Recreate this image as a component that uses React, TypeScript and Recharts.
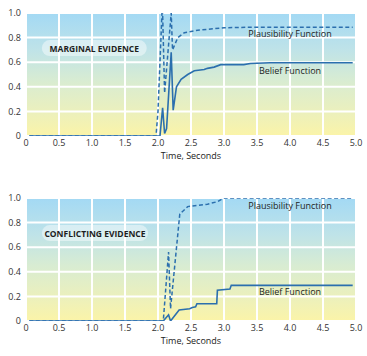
import React from "react";
import {
  CartesianGrid,
  Line,
  LineChart,
  ReferenceArea,
  ReferenceDot,
  XAxis,
  YAxis,
} from "recharts";

// time ticks (seconds) and value ticks
const timeTicks = [0, 0.5, 1, 1.5, 2, 2.5, 3, 3.5, 4, 4.5, 5];
const valueTicks = [0, 0.2, 0.4, 0.6, 0.8, 1];

// marginal evidence: [time, value]
const marginalPlausibility: [number, number][] = [
  [0.05, 0], [1.97, 0], [2.0, 0.2], [2.06, 1.0], [2.07, 1.0], [2.1, 0.35],
  [2.2, 1.0], [2.22, 0.7], [2.3, 0.8], [2.4, 0.84], [2.5, 0.85], [2.6, 0.86],
  [2.8, 0.87], [3.0, 0.88], [3.5, 0.885], [4.95, 0.885],
];
const marginalBelief: [number, number][] = [
  [0.05, 0], [2.03, 0], [2.07, 0.23], [2.1, 0.02], [2.13, 0.06], [2.2, 0.68],
  [2.23, 0.21], [2.28, 0.4], [2.35, 0.46], [2.45, 0.5], [2.55, 0.53], [2.7, 0.54],
  [2.75, 0.55], [2.85, 0.56], [2.95, 0.58], [3.3, 0.58], [3.4, 0.59], [3.7, 0.595],
  [4.95, 0.595],
];

// conflicting evidence: [time, value]
const conflictPlausibility: [number, number][] = [
  [0.05, 0], [2.08, 0], [2.16, 0.56], [2.19, 0.1], [2.33, 0.87], [2.45, 0.93],
  [2.6, 0.94], [2.75, 0.95], [2.9, 0.97], [3.0, 1.0], [4.95, 1.0],
];
const conflictBelief: [number, number][] = [
  [0.05, 0], [2.08, 0], [2.16, 0.05], [2.19, 0], [2.32, 0.09], [2.48, 0.1],
  [2.52, 0.11], [2.57, 0.115], [2.59, 0.14], [2.89, 0.14], [2.9, 0.25],
  [3.09, 0.26], [3.11, 0.29], [4.95, 0.29],
];

const toRows = (pts: [number, number][]) => pts.map(([t, v]) => ({ t, v }));

const LINE = "#2b6fae";
const FONT = "'Open Sans', sans-serif";

const fmt = (v: number) => (v === 0 ? "0" : v.toFixed(1));

const Pill = (props: any) => {
  const { x, y, width, height } = props;
  return (
    <rect x={x} y={y} width={width} height={height} rx={height / 2} fill="#ffffff" fillOpacity={0.45} />
  );
};

const TextLabel = (text: string, bold = false) => (props: any) => {
  const { cx, cy } = props;
  return (
    <text
      x={cx}
      y={cy}
      textAnchor="middle"
      dominantBaseline="central"
      fontFamily={FONT}
      fontSize={bold ? 8.5 : 9}
      fontWeight={bold ? 700 : 400}
      fill="#1e1e1e"
    >
      {text}
    </text>
  );
};

interface PanelProps {
  id: string;
  title: string;
  plausibility: [number, number][];
  belief: [number, number][];
  plausY: number;
  beliefY: number;
  pill: [number, number];
  height: number;
  top: number;
  bottom: number;
}

function Panel({ id, title, plausibility, belief, plausY, beliefY, pill, height, top, bottom }: PanelProps) {
  return (
    <LineChart width={367} height={height} margin={{ top, right: 11, left: 0, bottom }}>
      <defs>
        <linearGradient id={id} x1="0" y1="0" x2="0" y2="1">
          <stop offset="0%" stopColor="#a3d9f4" />
          <stop offset="30%" stopColor="#bfe3e8" />
          <stop offset="55%" stopColor="#d8ecd2" />
          <stop offset="80%" stopColor="#ebf0bd" />
          <stop offset="100%" stopColor="#fbf4a8" />
        </linearGradient>
      </defs>
      <CartesianGrid fill={`url(#${id})`} stroke="#ffffff" strokeWidth={2} />
      <XAxis
        type="number"
        dataKey="t"
        domain={[0, 5]}
        ticks={timeTicks}
        tickFormatter={fmt}
        axisLine={false}
        tickLine={false}
        tickSize={2}
        tickMargin={2}
        height={30}
        tick={{ fontSize: 9, fill: "#333", fontFamily: FONT }}
        interval={0}
        label={{ value: "Time, Seconds", position: "insideBottom", offset: 7, fontSize: 9, fill: "#222", fontFamily: FONT }}
      />
      <YAxis
        type="number"
        domain={[0, 1]}
        ticks={valueTicks}
        tickFormatter={fmt}
        axisLine={false}
        tickLine={false}
        tickSize={3}
        tickMargin={2}
        width={26}
        allowDataOverflow
        tick={{ fontSize: 9, fill: "#333", fontFamily: FONT }}
        interval={0}
      />
      <ReferenceArea x1={pill[0]} x2={pill[1]} y1={0.65} y2={0.78} shape={<Pill />} ifOverflow="visible" />
      <ReferenceDot x={(pill[0] + pill[1]) / 2} y={0.715} r={0} shape={TextLabel(title, true)} />
      <ReferenceDot x={4.0} y={plausY} r={0} shape={TextLabel("Plausibility Function")} />
      <ReferenceDot x={4.0} y={beliefY} r={0} shape={TextLabel("Belief Function")} />
      <Line
        data={toRows(plausibility)}
        dataKey="v"
        type="linear"
        stroke={LINE}
        strokeWidth={1.5}
        strokeDasharray="4 2.5"
        dot={false}
        isAnimationActive={false}
      />
      <Line
        data={toRows(belief)}
        dataKey="v"
        type="linear"
        stroke={LINE}
        strokeWidth={1.6}
        dot={false}
        isAnimationActive={false}
      />
    </LineChart>
  );
}

export default function App() {
  return (
    <div style={{ position: "absolute", left: 0, top: 0, width: 367, height: 356, background: "#fff" }}>
      <Panel
        id="bgTop"
        title="MARGINAL EVIDENCE"
        plausibility={marginalPlausibility}
        belief={marginalBelief}
        plausY={0.83}
        beliefY={0.535}
        pill={[0.24, 1.83]}
        height={180}
        top={13}
        bottom={14}
      />
      <Panel
        id="bgBottom"
        title="CONFLICTING EVIDENCE"
        plausibility={conflictPlausibility}
        belief={conflictBelief}
        plausY={0.94}
        beliefY={0.236}
        pill={[0.24, 1.85]}
        height={176}
        top={18}
        bottom={5}
      />
    </div>
  );
}
